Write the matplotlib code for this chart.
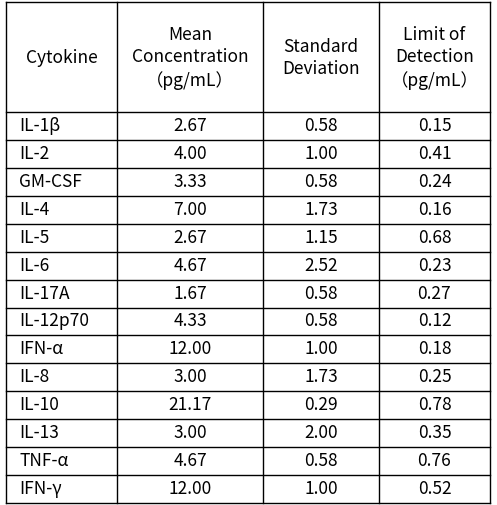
import matplotlib
matplotlib.use("Agg")
import matplotlib.pyplot as plt

plt.rcParams['font.family'] = ['Noto Sans CJK SC', 'DejaVu Sans']

headers = ["Cytokine", "Mean\nConcentration\n（pg/mL）", "Standard\nDeviation", "Limit of\nDetection\n（pg/mL）"]
cytokines = ["IL-1β", "IL-2", "GM-CSF", "IL-4", "IL-5", "IL-6", "IL-17A", "IL-12p70",
             "IFN-α", "IL-8", "IL-10", "IL-13", "TNF-α", "IFN-γ"]
means = ["2.67", "4.00", "3.33", "7.00", "2.67", "4.67", "1.67", "4.33",
         "12.00", "3.00", "21.17", "3.00", "4.67", "12.00"]
sds = ["0.58", "1.00", "0.58", "1.73", "1.15", "2.52", "0.58", "0.58",
       "1.00", "1.73", "0.29", "2.00", "0.58", "1.00"]
lods = ["0.15", "0.41", "0.24", "0.16", "0.68", "0.23", "0.27", "0.12",
        "0.18", "0.25", "0.78", "0.35", "0.76", "0.52"]

W, H = 497, 505
fig = plt.figure(figsize=(W/100, H/100), dpi=100)
ax = fig.add_axes([0, 0, 1, 1])
ax.set_xlim(0, W); ax.set_ylim(H, 0); ax.axis('off')

xs = [6, 117, 263, 379, 490]
top, hdr_bottom, bottom = 2, 112, 503
n = len(cytokines)
rh = (bottom - hdr_bottom) / n
ys = [top, hdr_bottom] + [hdr_bottom + rh*(i+1) for i in range(n)]

for x in xs:
    ax.plot([x, x], [top, bottom], color='black', lw=1)
for y in ys:
    ax.plot([xs[0], xs[-1]], [y, y], color='black', lw=1)

fs = 12.5
for j, h in enumerate(headers):
    ax.text((xs[j]+xs[j+1])/2, (top+hdr_bottom)/2 + 1, h, ha='center', va='center',
            fontsize=fs, linespacing=1.3, fontweight='light')

cols = [cytokines, means, sds, lods]
for i in range(n):
    yc = hdr_bottom + rh*(i+0.5)
    for j, col in enumerate(cols):
        if j == 0:
            ax.text(xs[0]+13, yc, col[i], ha='left', va='center', fontsize=fs, fontweight='light')
        else:
            ax.text((xs[j]+xs[j+1])/2, yc, col[i], ha='center', va='center', fontsize=fs, fontweight='light')

fig.savefig("out.png", dpi=100, facecolor='white')
